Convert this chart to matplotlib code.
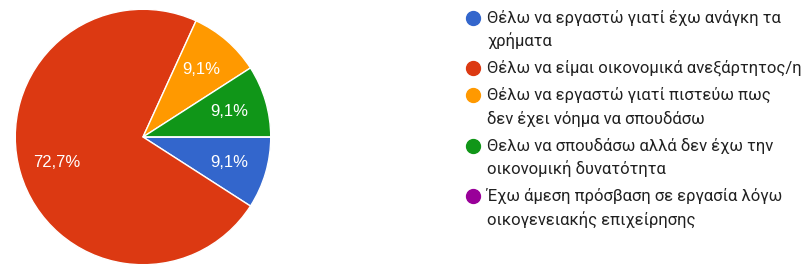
import matplotlib.pyplot as plt

labels = [
    "Θέλω να εργαστώ γιατί έχω ανάγκη τα\nχρήματα",
    "Θέλω να είμαι οικονομικά ανεξάρτητος/η",
    "Θέλω να εργαστώ γιατί πιστεύω πως\nδεν έχει νόημα να σπουδάσω",
    "Θελω να σπουδάσω αλλά δεν έχω την\nοικονομική δυνατότητα",
    "Έχω άμεση πρόσβαση σε εργασία λόγω\nοικογενειακής επιχείρησης",
]
counts = [1, 8, 1, 1, 0]
colors = ["#3366CC", "#DC3912", "#FF9900", "#109618", "#990099"]

plt.rcParams["font.family"] = ["Roboto", "DejaVu Sans"]

W, H = 806, 270
fig = plt.figure(figsize=(W / 100, H / 100), dpi=100)

# pie axes: centre (143, 137) px, radius 129 px
cx, cy, r = 143, 137, 129
ax = fig.add_axes([(cx - r) / W, (H - cy - r) / H, 2 * r / W, 2 * r / H])


def fmt(p):
    if p < 0.05:
        return ""
    return f"{p:.1f}%".replace(".", ",")


wedges, texts, autotexts = ax.pie(
    counts, colors=colors, startangle=0, counterclock=False,
    autopct=fmt, pctdistance=0.7,
    wedgeprops=dict(edgecolor="white", linewidth=1),
    textprops=dict(color="white", fontsize=12,
                   family=["Liberation Sans", "DejaVu Sans"]),
)
ax.set_xlim(-1.01, 1.01)
ax.set_ylim(-1.01, 1.01)
ax.set_aspect("equal")
ax.axis("off")

# legend drawn by hand so markers sit on the first text line
y = 17.5
line_h, gap = 23.5, 3.5
for lab, col in zip(labels, colors):
    fig.add_artist(plt.Line2D([473 / W], [1 - y / H], marker="o", ms=10,
                              color=col, mec=col, transform=fig.transFigure))
    for k, part in enumerate(lab.split("\n")):
        fig.text(487 / W, 1 - (y + k * line_h) / H, part, fontsize=12,
                 color="#212121", va="center", ha="left")
    y += (lab.count("\n") + 1) * line_h + gap

fig.savefig("out.png", dpi=100, facecolor="white")
